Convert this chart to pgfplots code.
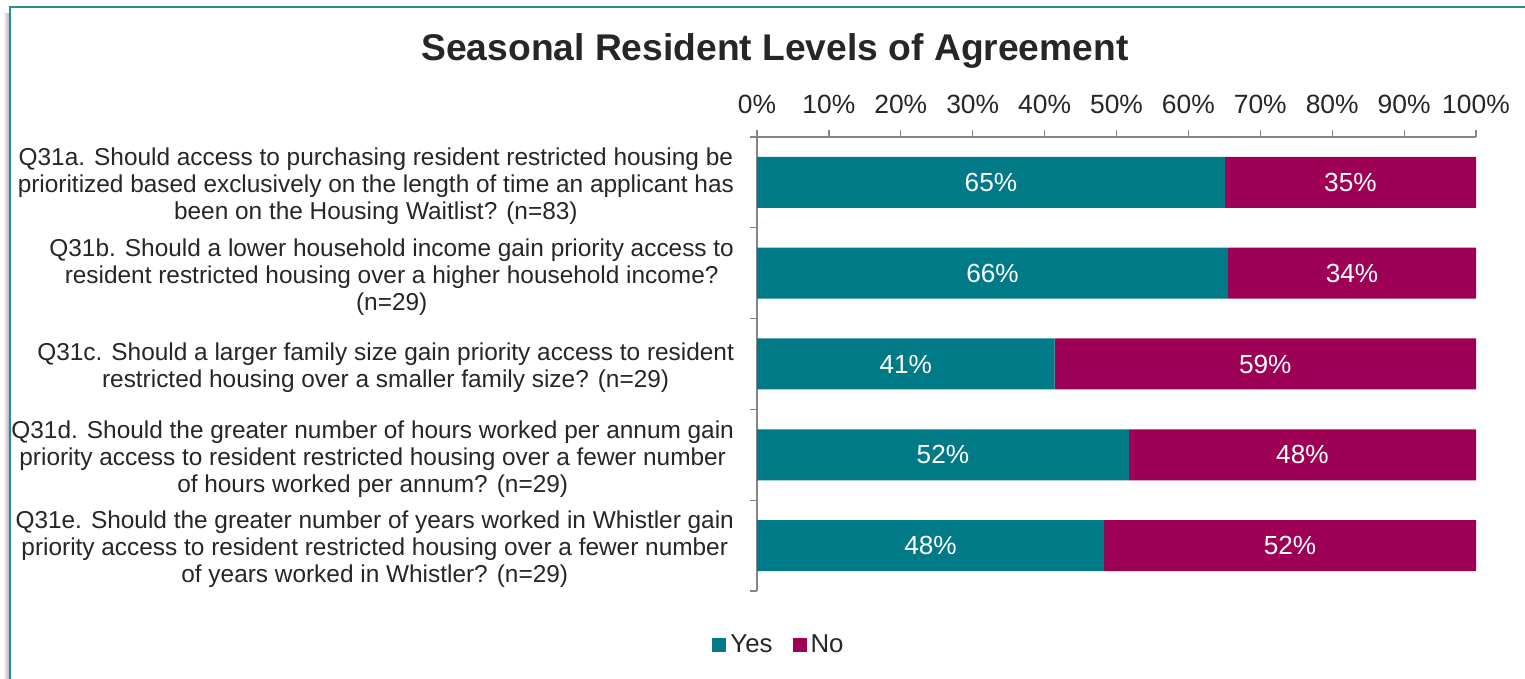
\documentclass[border=0pt]{standalone}
\usepackage{pgfplots}
\pgfplotsset{compat=1.18}
\usepackage{pgfplotstable}
\usepackage{fontspec}
\setmainfont{Liberation Sans}

\definecolor{yescol}{RGB}{0,122,135}
\definecolor{nocol}{RGB}{158,0,85}
\definecolor{axisgray}{RGB}{134,134,134}
\definecolor{txt}{RGB}{38,38,38}
\definecolor{framecol}{RGB}{40,140,155}

\pgfplotstableread{
y yes no
4 65.06 34.94
3 65.52 34.48
2 41.38 58.62
1 51.72 48.28
0 48.28 51.72
}\agree

\pgfplotsset{
  panel/.style={
    at={(378.5pt,271pt)}, anchor=north west,
    scale only axis, width=359.5pt, height=227pt,
    xmin=0, xmax=100, ymin=-0.5, ymax=4.5,
    /pgf/number format/assume math mode=true,
  },
  barlabel/.style={only marks, mark=none,
    nodes near coords={\pgfmathprintnumber[fixed,precision=0,assume math mode=true]{\pgfplotspointmeta}\%},
    every node near coord/.style={anchor=center, text=white, inner sep=0pt,
      font=\fontsize{13.1}{15}\selectfont},
  },
}

\begin{document}
\begin{tikzpicture}
\path[use as bounding box] (0,0) rectangle (762.5pt,339.5pt);
% frame with a soft shadow on the left
\fill[left color=white, right color=black!35] (1.5pt,0) rectangle (5pt,332.5pt);
\draw[framecol, line width=1pt] (5pt,0) -- (5pt,336pt) -- (762.5pt,336pt);
\fill[white] (5.5pt,0) rectangle (762.5pt,335.5pt);

\node[font=\bfseries\fontsize{18.6}{22}\selectfont, text=txt] at (387.5pt,314pt)
  {Seasonal Resident Levels of Agreement};

\begin{axis}[
  panel,
  xbar stacked, bar width=25.5pt,
  axis x line*=top, axis y line*=left,
  axis line style={axisgray, line width=0.6pt},
  tick align=outside,
  xtick={0,10,...,100}, minor xtick={0,10,...,100},
  ytick={0,...,4}, minor ytick={-0.5,0.5,...,4.5},
  major tick length=0pt, minor tick length=3.5pt,
  minor tick style={axisgray, line width=0.6pt},
  xticklabel={\pgfmathprintnumber{\tick}\%},
  xticklabel style={font=\fontsize{13.2}{15}\selectfont, text=txt, yshift=8pt},
  yticklabel style={font=\fontsize{12.2}{13.5}\selectfont, text=txt, align=center, xshift=-8pt, yshift=-2pt},
  yticklabels={
    {Q31e. Should the greater number of years worked in Whistler gain\\priority access to resident restricted housing over a fewer number\\of years worked in Whistler? (n=29)},
    {Q31d. Should the greater number of hours worked per annum gain\\priority access to resident restricted housing over a fewer number\\of hours worked per annum? (n=29)},
    {Q31c. Should a larger family size gain priority access to resident\\restricted housing over a smaller family size? (n=29)},
    {Q31b. Should a lower household income gain priority access to\\resident restricted housing over a higher household income?\\(n=29)},
    {Q31a. Should access to purchasing resident restricted housing be\\prioritized based exclusively on the length of time an applicant has\\been on the Housing Waitlist? (n=83)}
  },
  legend style={at={(0.032,-0.119)}, anchor=center, draw=none, fill=none,
    legend columns=2, font=\fontsize{12.9}{15}\selectfont, text=txt,
    /tikz/every even column/.append style={column sep=8pt}},
  legend image code/.code={\fill[#1] (0pt,-3.5pt) rectangle (7pt,3.5pt);},
]
\addplot[fill=yescol, draw=none] table[x=yes, y=y]{\agree};
\addplot[fill=nocol, draw=none] table[x=no, y=y]{\agree};
\legend{Yes, No}
\end{axis}

% value labels in the middle of each segment
\begin{axis}[panel, hide axis, clip=false]
\addplot[barlabel, point meta=\thisrow{yes}]
  table[x expr=\thisrow{yes}/2, y=y]{\agree};
\addplot[barlabel, point meta=\thisrow{no}]
  table[x expr=\thisrow{yes}+\thisrow{no}/2, y=y]{\agree};
\end{axis}
\end{tikzpicture}
\end{document}
